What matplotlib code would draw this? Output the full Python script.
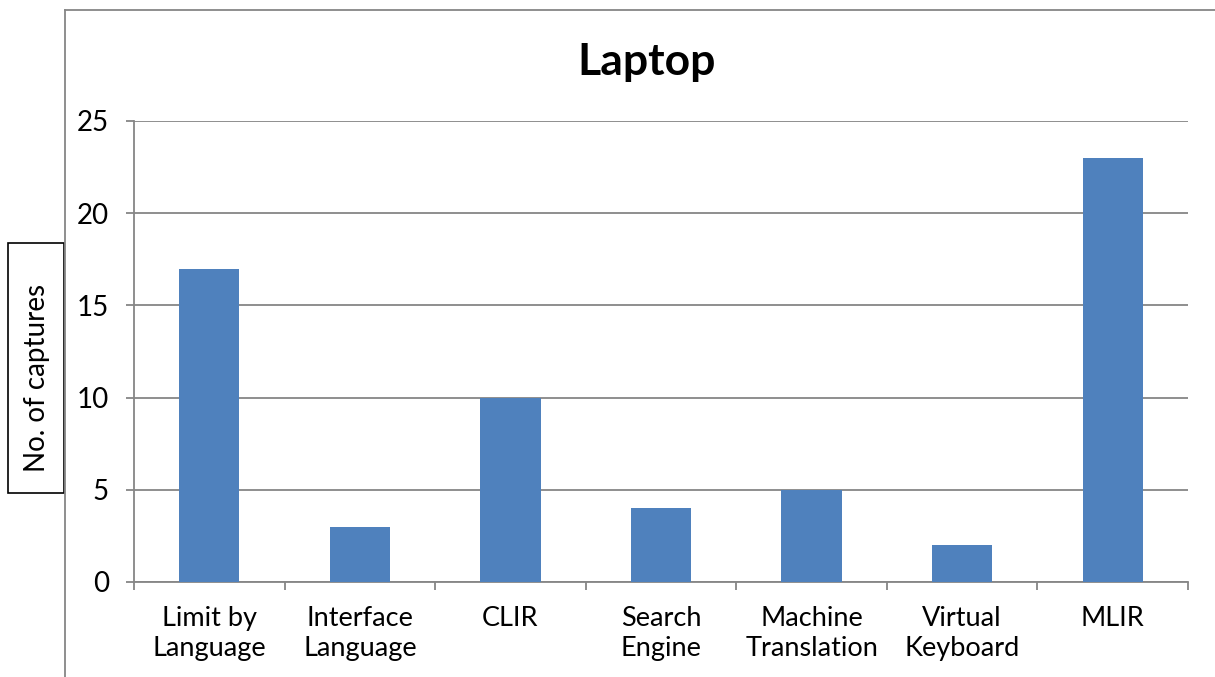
import numpy as np
import matplotlib
matplotlib.use('Agg')
import matplotlib.pyplot as plt
from matplotlib.patches import Rectangle
from matplotlib.lines import Line2D

# Datos del grafico
categorias = ['Limit by\nLanguage', 'Interface\nLanguage', 'CLIR', 'Search\nEngine',
              'Machine\nTranslation', 'Virtual\nKeyboard', 'MLIR']
capturas = [17, 3, 10, 4, 5, 2, 23]
ticks_y = [0, 5, 10, 15, 20, 25]

plt.rcParams['font.family'] = ['Lato', 'DejaVu Sans']
gris = '#868686'

fig = plt.figure(figsize=(12.15, 6.77), dpi=100)
ax = fig.add_axes([134 / 1215, 1 - 582 / 677, (1188 - 134) / 1215, (582 - 121) / 677])

x = np.arange(len(categorias))
ax.bar(x, capturas, width=0.4, color='#4F81BD', zorder=3)

ax.set_xlim(-0.5, len(categorias) - 0.5)
ax.set_ylim(0, 25)
ax.set_yticks(ticks_y)
ax.set_yticklabels([str(t) for t in ticks_y], fontsize=20)
ax.set_xticks(x)
ax.set_xticklabels(categorias, fontsize=19.5, linespacing=1.25)
ax.set_xticks(np.arange(-0.5, len(categorias)), minor=True)

ax.tick_params(axis='y', direction='out', length=6, width=1.3, color=gris, pad=12)
ax.tick_params(axis='x', which='major', length=0, pad=17)
ax.tick_params(axis='x', which='minor', direction='out', length=6, width=1.3, color=gris)

ax.grid(axis='y', color=gris, linewidth=1.3, zorder=0)
for lado in ['top', 'right']:
    ax.spines[lado].set_visible(False)
for lado in ['left', 'bottom']:
    ax.spines[lado].set_color(gris)
    ax.spines[lado].set_linewidth(1.3)

fig.text(647 / 1215, 1 - 62 / 677, 'Laptop', fontsize=32, fontweight='bold',
         ha='center', va='center')

# Caja del titulo del eje Y
fig.patches.append(Rectangle((8 / 1215, 1 - 493 / 677), 56 / 1215, 250 / 677,
                             transform=fig.transFigure, facecolor='white',
                             edgecolor='black', linewidth=1.2))
fig.text(37 / 1215, 1 - 378 / 677, 'No. of captures', fontsize=20, rotation=90,
         ha='center', va='center')

# Borde exterior del area del grafico
fig.lines.append(Line2D([65 / 1215, 65 / 1215], [0, 1 - 10 / 677],
                        transform=fig.transFigure, color=gris, linewidth=1.3))
fig.lines.append(Line2D([65 / 1215, 1], [1 - 10 / 677, 1 - 10 / 677],
                        transform=fig.transFigure, color=gris, linewidth=1.3))

fig.savefig('out.png', dpi=100)
